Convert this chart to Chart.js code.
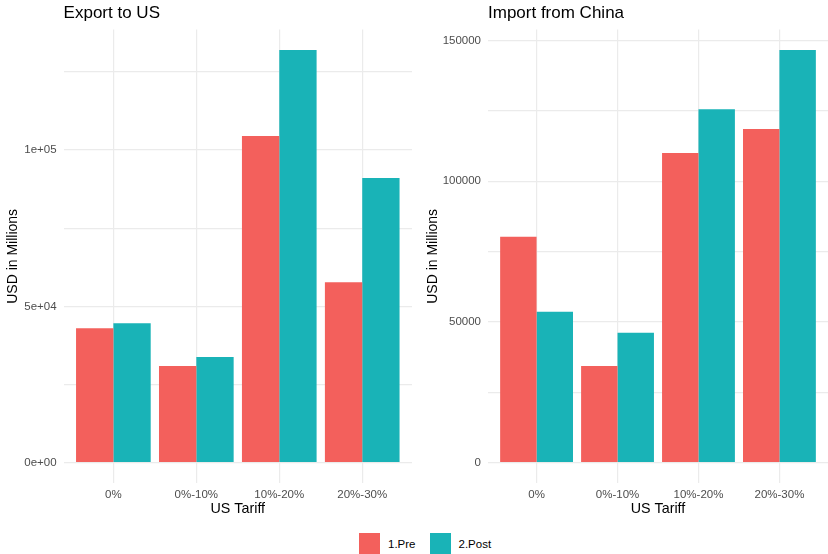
<!DOCTYPE html>
<html>
<head>
<meta charset="utf-8">
<script src="https://cdn.jsdelivr.net/npm/chart.js@4"></script>
<style>
  body { margin: 0; background: #fff; width: 828px; height: 554px; overflow: hidden; position: relative; font-family: "Liberation Sans", Arial, sans-serif; }
  .panel { position: absolute; top: 0; }
  #legend { position: absolute; top: 533px; left: 359px; display: flex; align-items: center; font-size: 11.5px; color: #000; }
  .sw { width: 21px; height: 21px; display: inline-block; margin-right: 8px; }
  .item { display: flex; align-items: center; margin-right: 14px; }
</style>
</head>
<body>
<div class="panel" style="left:0;width:412px;height:520px"><canvas id="chart1"></canvas></div>
<div class="panel" style="left:420px;width:408px;height:520px"><canvas id="chart2"></canvas></div>
<div id="legend">
  <div class="item"><span class="sw" style="background:#F3605C"></span>1.Pre</div>
  <div class="item"><span class="sw" style="background:#19B3B7"></span>2.Post</div>
</div>
<script>
// dati
const tariffe = ["0%", "0%-10%", "10%-20%", "20%-30%"];
const exportPre = [43000, 30900, 104500, 57700];
const exportPost = [44600, 33800, 132000, 91100];
const importPre = [80300, 34400, 110100, 118600];
const importPost = [53600, 46200, 125600, 146700];
const serie = ["1.Pre", "2.Post"];
const colori = ["#F3605C", "#19B3B7"];
// tick (griglia maggiore ogni 50000, minore a metà)
const tickExport = [0, 25000, 50000, 75000, 100000, 125000];
const tickImport = [0, 25000, 50000, 75000, 100000, 125000, 150000];

const grigio = "#EBEBEB";
const font = "'Liberation Sans', Arial, sans-serif";

// opzioni comuni, stile ggplot minimal
function creaGrafico(id, titolo, pre, post, yMin, yMax, yTicks, yWidth, formatta) {
    return new Chart(id, {
        type: "bar",
        data: {
            labels: tariffe,
            datasets: [
                {label: serie[0], data: pre, backgroundColor: colori[0]},
                {label: serie[1], data: post, backgroundColor: colori[1]}
            ]
        },
        options: {
            responsive: true,
            maintainAspectRatio: false,
            animation: false,
            layout: {padding: 0},
            datasets: {bar: {categoryPercentage: 0.9, barPercentage: 1.0}},
            plugins: {
                legend: {display: false},
                tooltip: {enabled: false},
                title: {
                    display: true,
                    text: titolo,
                    align: "start",
                    fullSize: false,
                    color: "#000",
                    font: {family: font, size: 17, weight: "normal", lineHeight: 1.2},
                    padding: {top: 3, bottom: 6}
                }
            },
            scales: {
                x: {
                    offset: true,
                    grid: {color: grigio, lineWidth: 1.2, offset: false, drawTicks: false},
                    border: {display: false},
                    ticks: {color: "#4D4D4D", font: {family: font, size: 11.5}, padding: 5, maxRotation: 0},
                    title: {display: true, text: "US Tariff", color: "#000", font: {family: font, size: 14.3}, padding: {top: 0, bottom: 2}},
                    // espansione discreta come ggplot (0.6 unità per lato)
                    afterBuildTicks: s => { s._startValue = -0.6; s._valueRange = tariffe.length + 0.2; },
                    afterFit: s => { s.height = 520 - 483.3; }
                },
                y: {
                    min: yMin,
                    max: yMax,
                    grid: {color: grigio, lineWidth: 1.2, drawTicks: false},
                    border: {display: false},
                    ticks: {
                        color: "#4D4D4D",
                        font: {family: font, size: 11.5},
                        padding: 7,
                        callback: v => (v % 50000 === 0 ? formatta(v) : "")
                    },
                    title: {display: true, text: "USD in Millions", color: "#000", font: {family: font, size: 14}, padding: {top: 5, bottom: 0}},
                    afterBuildTicks: s => { s.ticks = yTicks.map(v => ({value: v})); },
                    afterFit: s => { s.width = yWidth; }
                }
            }
        }
    });
}

const sci = v => {
    if (v === 0) return "0e+00";
    const e = Math.floor(Math.log10(v));
    const m = v / Math.pow(10, e);
    return m + "e+" + String(e).padStart(2, "0");
};

creaGrafico("chart1", "Export to US", exportPre, exportPost, -6600, 138600, tickExport, 63.6, sci);
creaGrafico("chart2", "Import from China", importPre, importPost, -7335, 154000, tickImport, 68, v => String(v));
</script>
</body>
</html>
